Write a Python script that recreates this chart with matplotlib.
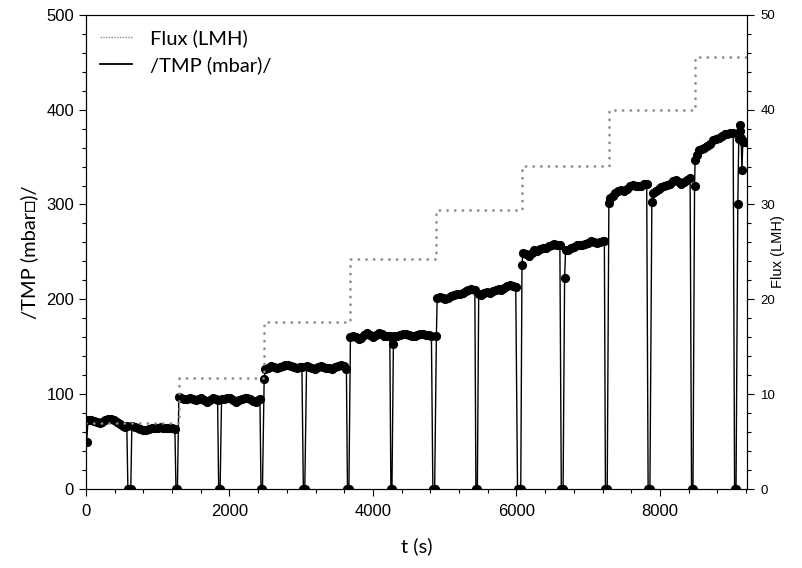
import matplotlib
matplotlib.use("Agg")
import matplotlib.pyplot as plt
from matplotlib.lines import Line2D
from matplotlib.ticker import MultipleLocator

# flux set points (LMH), step changes
flux_t = [0, 1295, 2484, 3686, 4884, 6077, 7288, 8482, 9210]
flux_v = [7.0, 11.7, 17.6, 24.2, 29.4, 34.1, 40.0, 45.6, 45.6]

# /TMP/ readings (mbar), grouped by filtration period, zeros = relaxation
tmp_t = [
    10, 30, 70, 110, 150, 190, 230, 270, 310, 350, 390, 430, 470, 510, 545, 570,
    585, 605, 625,
    640, 680, 720, 760, 800, 840, 880, 920, 960, 1000, 1040, 1080, 1120, 1160, 1200, 1240,
    1255, 1275,
    1295, 1330, 1370, 1410, 1450, 1490, 1530, 1570, 1610, 1650, 1690, 1730, 1770, 1810, 1835,
    1850, 1870,
    1890, 1930, 1970, 2010, 2050, 2090, 2130, 2170, 2210, 2250, 2290, 2330, 2370, 2400, 2425,
    2440, 2460,
    2484, 2500, 2540, 2580, 2620, 2660, 2700, 2740, 2780, 2820, 2860, 2900, 2940, 2980, 3010,
    3030, 3050,
    3075, 3110, 3150, 3190, 3230, 3270, 3310, 3350, 3390, 3430, 3470, 3510, 3550, 3590, 3630,
    3645, 3665,
    3686, 3720, 3760, 3800, 3840, 3880, 3920, 3960, 4000, 4040, 4080, 4120, 4160, 4200, 4235,
    4250, 4265,
    4285, 4300, 4340, 4380, 4420, 4460, 4500, 4540, 4580, 4620, 4660, 4700, 4740, 4780, 4815,
    4835, 4860,
    4884, 4895, 4930, 4970, 5010, 5050, 5090, 5130, 5170, 5210, 5250, 5290, 5330, 5370, 5420,
    5435, 5455,
    5474, 5510, 5550, 5590, 5630, 5670, 5710, 5750, 5790, 5830, 5870, 5910, 5950, 5990,
    6015, 6040, 6060,
    6077, 6090, 6130, 6170, 6210, 6250, 6290, 6330, 6370, 6410, 6450, 6490, 6530, 6570, 6605,
    6625, 6650,
    6671, 6685, 6720, 6760, 6800, 6840, 6880, 6920, 6960, 7000, 7040, 7080, 7120, 7160, 7200, 7225,
    7240, 7265,
    7288, 7300, 7340, 7380, 7420, 7460, 7500, 7540, 7580, 7620, 7660, 7700, 7740, 7780, 7815,
    7835, 7860,
    7887, 7900, 7940, 7980, 8020, 8060, 8100, 8140, 8180, 8220, 8260, 8300, 8340, 8380, 8420,
    8440, 8460,
    8482, 8490, 8510, 8540, 8580, 8620, 8660, 8700, 8740, 8780, 8820, 8860, 8900, 8940, 8980, 9020,
    9040, 9060,
    9085, 9098, 9110, 9122, 9132, 9142, 9155, 9180,
]
tmp_v = [
    50, 73, 73, 72, 71, 70, 71, 73, 74, 74, 73, 71, 69, 66, 65, 66,
    0, 0, 0,
    66, 65, 64, 63, 62, 62, 63, 64, 64, 64, 65, 64, 64, 64, 64, 63,
    0, 0,
    97, 96, 95, 95, 96, 95, 94, 95, 96, 94, 92, 94, 96, 95, 94,
    0, 0,
    95, 95, 96, 96, 94, 92, 94, 95, 96, 96, 95, 93, 92, 94, 95,
    0, 0,
    116, 127, 128, 130, 129, 128, 129, 130, 131, 131, 130, 129, 128, 129, 129,
    0, 0,
    130, 129, 128, 127, 129, 130, 129, 128, 128, 127, 129, 130, 131, 130, 127,
    0, 0,
    160, 161, 160, 158, 159, 162, 164, 162, 160, 162, 164, 163, 161, 161, 161,
    0, 0,
    153, 161, 161, 162, 163, 163, 162, 161, 161, 162, 163, 163, 162, 162, 161,
    0, 0,
    161, 201, 202, 201, 200, 201, 203, 205, 206, 206, 207, 209, 210, 211, 210,
    0, 0,
    206, 205, 207, 208, 207, 209, 210, 211, 210, 212, 214, 215, 214, 213,
    0, 0, 0,
    236, 249, 248, 246, 249, 252, 251, 253, 254, 254, 256, 257, 258, 257, 257,
    0, 0,
    223, 252, 252, 254, 255, 257, 257, 257, 258, 259, 261, 260, 259, 260, 261, 262,
    0, 0,
    302, 307, 309, 312, 314, 315, 314, 316, 319, 321, 320, 319, 320, 322, 322,
    0, 0,
    303, 312, 314, 316, 318, 319, 321, 322, 325, 326, 324, 322, 324, 326, 328,
    0, 0,
    319, 347, 352, 357, 359, 360, 362, 364, 368, 369, 370, 372, 374, 374, 375, 375,
    0, 0,
    301, 369, 377, 384, 370, 336, 366, 366,
]

tick_font = "Liberation Sans"
label_font = ["Lato", "DejaVu Sans"]

fig = plt.figure(figsize=(8.03, 5.68), dpi=100)
ax = fig.add_axes([0.107, 0.139, 0.823, 0.835])
ax2 = ax.twinx()

ax.plot(tmp_t, tmp_v, color="black", lw=1.0, marker="o", ms=5.6,
        mfc="black", mec="black", zorder=3)
ax2.step(flux_t, flux_v, where="post", color="#8a8a8a", lw=1.9,
         linestyle=(0, (0.1, 2.8)), dash_capstyle="round")

ax.set_xlim(0, 9210)
ax.set_ylim(0, 500)
ax2.set_ylim(0, 50)

ax.xaxis.set_major_locator(MultipleLocator(2000))
ax.xaxis.set_minor_locator(MultipleLocator(400))
ax.yaxis.set_major_locator(MultipleLocator(100))
ax.yaxis.set_minor_locator(MultipleLocator(20))
ax2.yaxis.set_major_locator(MultipleLocator(10))
ax2.yaxis.set_minor_locator(MultipleLocator(2))

ax.tick_params(axis="both", which="major", direction="out", length=5, width=0.8,
               labelsize=12)
ax.tick_params(axis="x", which="major", pad=6)
ax.tick_params(axis="both", which="minor", direction="out", length=3, width=0.8)
ax2.tick_params(axis="y", which="major", direction="out", length=5, width=0.8,
                labelsize=9.5, pad=5)
ax2.tick_params(axis="y", which="minor", direction="out", length=3, width=0.8)
for lab in ax.get_xticklabels() + ax.get_yticklabels() + ax2.get_yticklabels():
    lab.set_fontfamily(tick_font)

ax.set_xlabel("t (s)", family=label_font, fontsize=14.5, labelpad=13)
ax.set_ylabel("/TMP (mbar\u25a1)/", family=label_font, fontsize=14.5, labelpad=6)
ax2.set_ylabel("Flux (LMH)", family=tick_font, fontsize=10.5, labelpad=-3)

handles = [
    Line2D([], [], color="#8a8a8a", lw=1.0, linestyle=(0, (1, 1))),
    Line2D([], [], color="black", lw=1.3),
]
ax.legend(handles, ["Flux (LMH)", "/TMP (mbar)/"], loc="upper left",
          frameon=False, prop={"family": label_font, "size": 14.5},
          handlelength=1.6, handletextpad=0.9, labelspacing=0.45,
          borderaxespad=0.3, bbox_to_anchor=(0.0, 1.0))

fig.savefig("out.png", dpi=100)
